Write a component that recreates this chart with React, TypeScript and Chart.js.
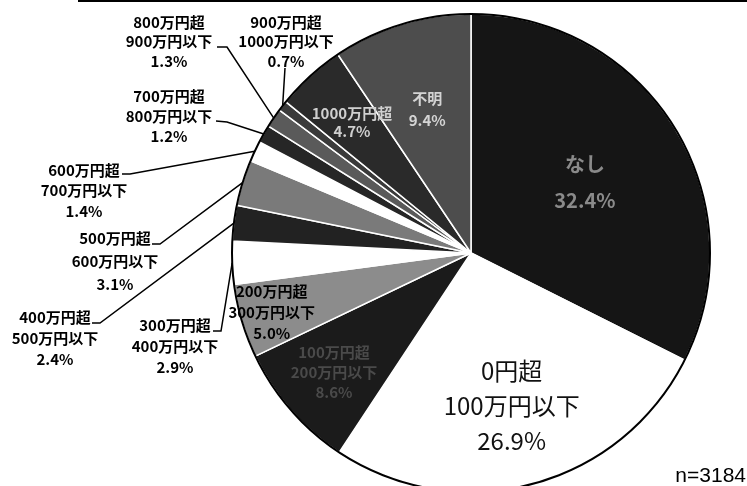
import { useEffect, useRef } from 'react';
import { Chart, registerables } from 'chart.js';

Chart.register(...registerables);

// ---- data ----
const categories = [
  'なし',
  '0円超100万円以下',
  '100万円超200万円以下',
  '200万円超300万円以下',
  '300万円超400万円以下',
  '400万円超500万円以下',
  '500万円超600万円以下',
  '600万円超700万円以下',
  '700万円超800万円以下',
  '800万円超900万円以下',
  '900万円超1000万円以下',
  '1000万円超',
  '不明',
];
const shares = [32.4, 26.9, 8.6, 5.0, 2.9, 2.4, 3.1, 1.4, 1.2, 1.3, 0.7, 4.7, 9.4];
const sampleNote = 'n=3184';

// ---- styling ----
const sliceColors = [
  '#151515', '#ffffff', '#1b1b1b', '#8c8c8c', '#ffffff', '#222222', '#7a7a7a',
  '#ffffff', '#262626', '#5a5a5a', '#3a3a3a', '#2a2a2a', '#4d4d4d',
];

type Inner = { r: number; size: number; weight: string; color: string; gap: number };
const innerStyle: Record<number, Inner> = {
  0: { r: 0.56, size: 20, weight: 'bold', color: '#8a8a8a', gap: 36 },
  1: { r: 0.66, size: 24, weight: 'normal', color: '#111111', gap: 35 },
  2: { r: 0.76, size: 15, weight: 'bold', color: '#4a4a4a', gap: 20 },
  3: { r: 0.87, size: 15, weight: 'bold', color: '#000000', gap: 21 },
  11: { r: 0.74, size: 15, weight: 'bold', color: '#cfcfcf', gap: 18 },
  12: { r: 0.63, size: 15, weight: 'bold', color: '#d4d4d4', gap: 22 },
};

type Outer = { x: number; y: number; gap: number; leader: number[][] };
const outerLayout: Record<number, Outer> = {
  4: { x: 175, y: 325, gap: 21, leader: [[213, 331], [221, 331]] },
  5: { x: 55, y: 317, gap: 21, leader: [[92, 323], [100, 323]] },
  6: { x: 115, y: 238, gap: 23, leader: [[152, 244], [160, 244]] },
  7: { x: 84, y: 170, gap: 20.5, leader: [[122, 174], [130, 174]] },
  8: { x: 169, y: 96, gap: 20, leader: [[216, 121], [227, 122]] },
  9: { x: 169, y: 22, gap: 19.5, leader: [[217, 47], [227, 47]] },
  10: { x: 286, y: 22, gap: 19.5, leader: [[285, 68]] },
};

const FONT = '"Noto Sans CJK JP", "Noto Sans", sans-serif';

function labelLines(i: number): string[] {
  const name = categories[i];
  const k = name.indexOf('超');
  const parts = k >= 0 && k < name.length - 1 ? [name.slice(0, k + 1), name.slice(k + 1)] : [name];
  return [...parts, shares[i].toFixed(1) + '%'];
}

const decorPlugin = {
  id: 'decor',
  afterDatasetsDraw(chart: any) {
    const ctx: CanvasRenderingContext2D = chart.ctx;
    const meta = chart.getDatasetMeta(0);
    const arcs = meta.data as any[];
    if (!arcs.length) return;
    const cx = arcs[0].x;
    const cy = arcs[0].y;
    const R = arcs[0].outerRadius;

    ctx.save();
    // outer outline
    ctx.beginPath();
    ctx.arc(cx, cy, R, 0, Math.PI * 2);
    ctx.lineWidth = 2;
    ctx.strokeStyle = '#000';
    ctx.stroke();

    // top rule
    ctx.beginPath();
    ctx.moveTo(78, 1);
    ctx.lineTo(747, 1);
    ctx.lineWidth = 2;
    ctx.stroke();

    ctx.textAlign = 'center';
    ctx.textBaseline = 'middle';

    arcs.forEach((arc, i) => {
      const mid = (arc.startAngle + arc.endAngle) / 2;
      const lines = labelLines(i);
      const st = innerStyle[i];
      if (st) {
        const px = cx + Math.cos(mid) * R * st.r;
        const py = cy + Math.sin(mid) * R * st.r;
        ctx.font = `${st.weight} ${st.size}px ${FONT}`;
        ctx.fillStyle = st.color;
        const top = py - ((lines.length - 1) * st.gap) / 2;
        lines.forEach((t, j) => ctx.fillText(t, px, top + j * st.gap));
      }
      const ol = outerLayout[i];
      if (ol) {
        ctx.font = `bold 15px ${FONT}`;
        ctx.fillStyle = '#000';
        lines.forEach((t, j) => ctx.fillText(t, ol.x, ol.y + j * ol.gap));
        const ax = cx + Math.cos(mid) * R;
        const ay = cy + Math.sin(mid) * R;
        ctx.beginPath();
        ctx.moveTo(ol.leader[0][0], ol.leader[0][1]);
        for (let k = 1; k < ol.leader.length; k++) ctx.lineTo(ol.leader[k][0], ol.leader[k][1]);
        ctx.lineTo(ax, ay);
        ctx.lineWidth = 1.5;
        ctx.strokeStyle = '#000';
        ctx.stroke();
      }
    });

    ctx.font = `21px "Liberation Sans", Arial, sans-serif`;
    ctx.textAlign = 'right';
    ctx.fillStyle = '#000';
    ctx.fillText(sampleNote, 746, 476);
    ctx.restore();
  },
};

export default function App() {
  const ref = useRef<HTMLCanvasElement | null>(null);
  useEffect(() => {
    if (!ref.current) return;
    const chart = new Chart(ref.current, {
      type: 'pie',
      data: {
        labels: categories,
        datasets: [
          {
            data: shares,
            backgroundColor: sliceColors,
            borderColor: '#ffffff',
            borderWidth: 1.5,
          },
        ],
      },
      options: {
        responsive: false,
        maintainAspectRatio: false,
        animation: false,
        radius: 239,
        layout: { padding: { left: 195, top: 20, right: 0, bottom: 0 } },
        plugins: { legend: { display: false }, tooltip: { enabled: false } },
      } as any,
      plugins: [decorPlugin],
    });
    return () => chart.destroy();
  }, []);
  return (
    <div style={{ position: 'fixed', left: 0, top: 0, width: 747, height: 486, background: '#fff' }}>
      <canvas ref={ref} width={747} height={486} style={{ display: 'block' }} />
    </div>
  );
}
